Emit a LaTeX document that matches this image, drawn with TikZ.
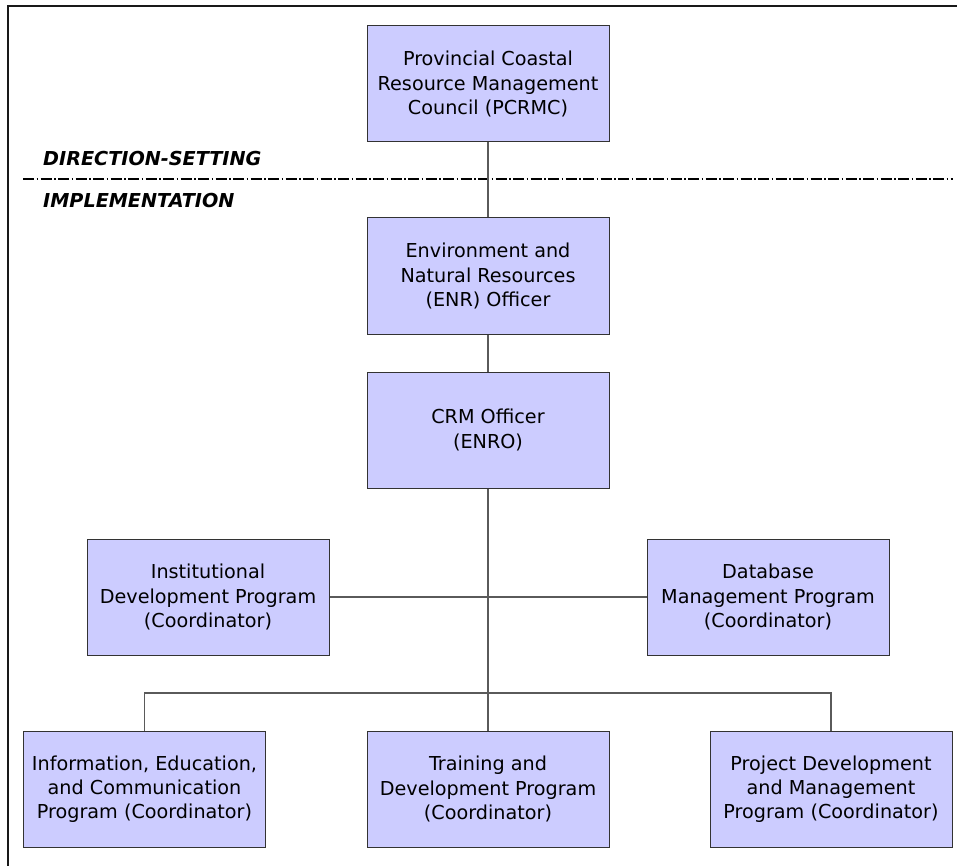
\documentclass[tikz,border=0pt]{standalone}
\usepackage{fontspec}
\setmainfont{DejaVu Sans}
\definecolor{boxfill}{HTML}{CCCCFF}
\definecolor{boxline}{HTML}{333333}
\definecolor{conn}{HTML}{5A5A5A}
\begin{document}
\begin{tikzpicture}[x=1pt,y=-1pt,
  orgbox/.style={draw=boxline, line width=1pt, fill=boxfill, minimum width=242pt, minimum height=116pt,
    inner sep=0pt, align=center, font=\fontsize{19.2}{24.3}\selectfont},
  conline/.style={draw=conn, line width=1.4pt},
  layerlabel/.style={anchor=base west, inner sep=0pt, font=\fontsize{19.2}{23}\selectfont\bfseries\itshape}]
\useasboundingbox (0,0) rectangle (957,866);
\fill[white] (0,0) rectangle (957,866);
% frame (top and left edges visible)
\coordinate (fbl) at (8,866);
\coordinate (ftl) at (8,6);
\coordinate (ftr) at (958,6);
\draw[line width=2pt, black!90] (fbl) -- (ftl) -- (ftr);
% layer divider
\coordinate (dl) at (23,179);
\coordinate (dr) at (953,179);
\draw[line width=1.8pt, dash pattern=on 11pt off 2.5pt on 1.5pt off 2.5pt] (dl) -- (dr);
\node[layerlabel] (dirset) at (43,166) {DIRECTION-SETTING};
\node[layerlabel] (impl) at (43,208) {IMPLEMENTATION};
% boxes
\node[orgbox] (pcrmc) at (488,84) {Provincial Coastal\\Resource Management\\Council (PCRMC)};
\node[orgbox] (enr) at (488,276) {Environment and\\Natural Resources\\(ENR) Officer};
\node[orgbox] (crm) at (488,430) {CRM Officer\\(ENRO)};
\node[orgbox] (inst) at (208,597) {Institutional\\Development Program\\(Coordinator)};
\node[orgbox] (dbm) at (768,597) {Database\\Management Program\\(Coordinator)};
\node[orgbox] (iec) at (144.5,789) {Information, Education,\\and Communication\\Program (Coordinator)};
\node[orgbox] (train) at (488,789) {Training and\\Development Program\\(Coordinator)};
\node[orgbox] (proj) at (831,789) {Project Development\\and Management\\Program (Coordinator)};
% connectors
\coordinate (bus) at (488,693);
\draw[conline] (pcrmc.south) -- (enr.north);
\draw[conline] (enr.south) -- (crm.north);
\draw[conline] (crm.south) -- (train.north);
\draw[conline] (inst.east) -- (dbm.west);
\draw[conline] (iec.north) |- (bus) -| (proj.north);
\end{tikzpicture}
\end{document}
